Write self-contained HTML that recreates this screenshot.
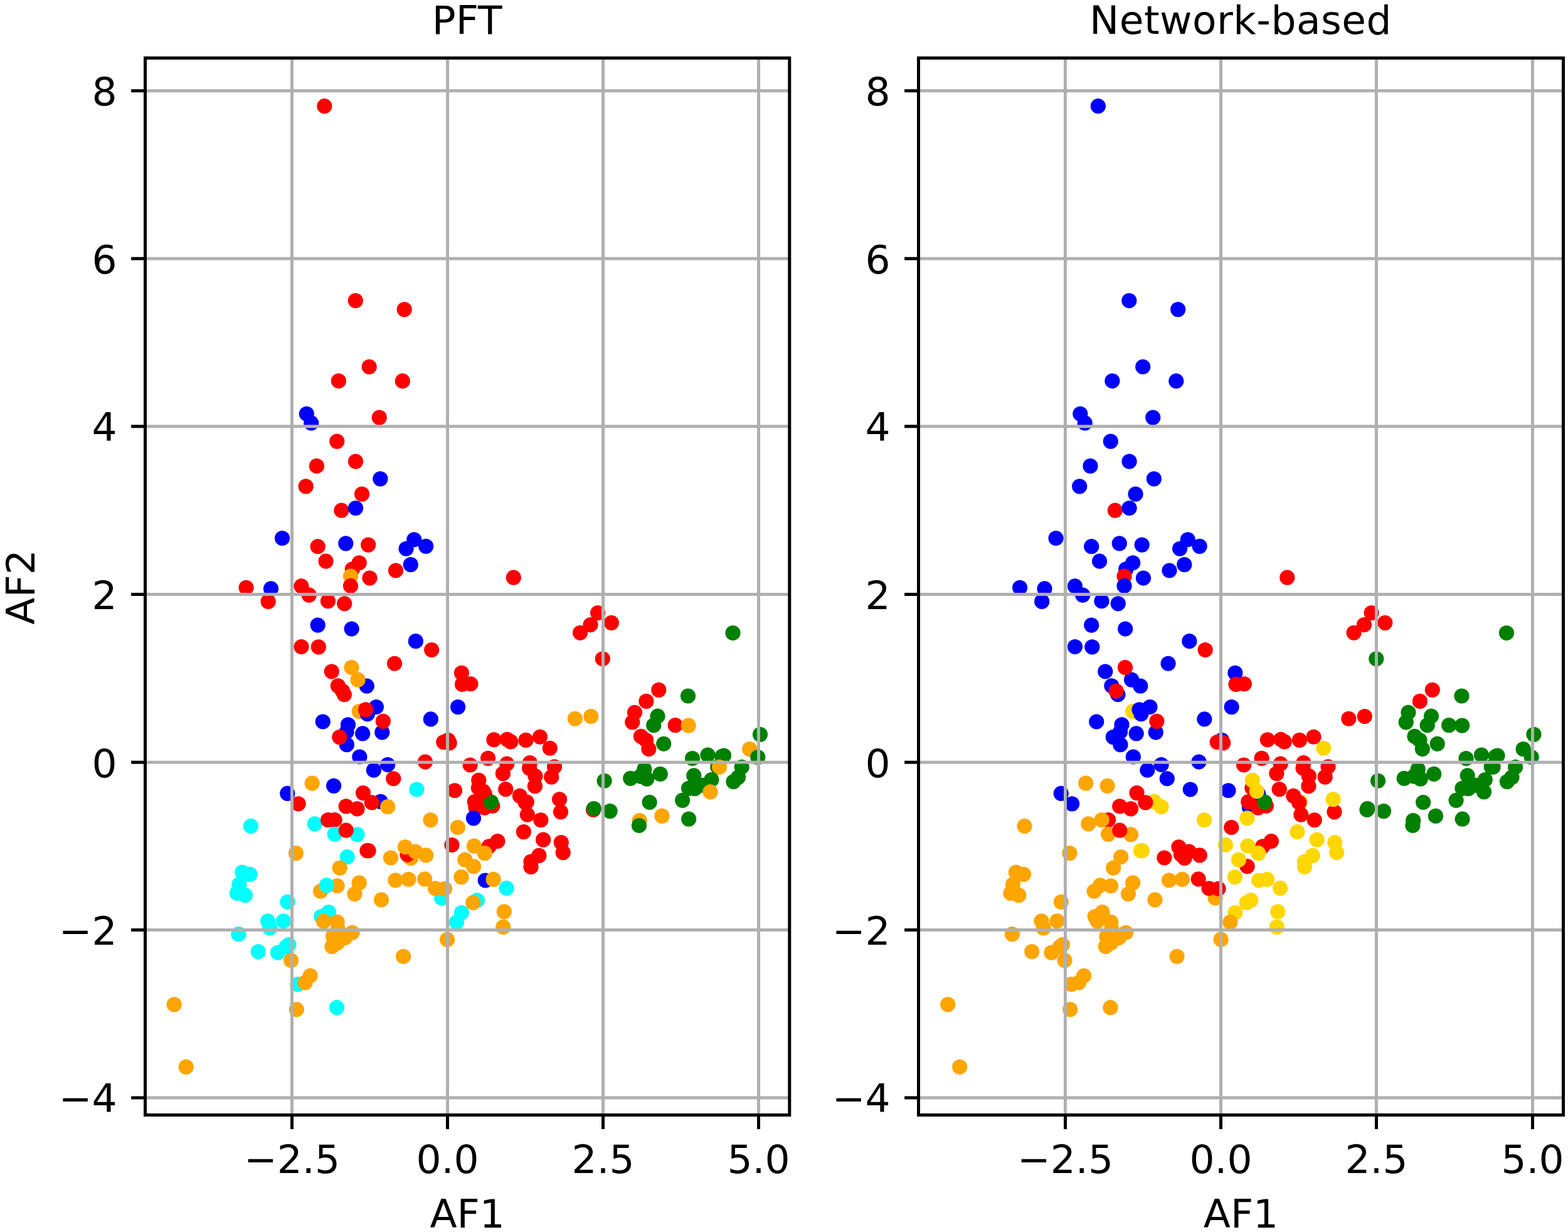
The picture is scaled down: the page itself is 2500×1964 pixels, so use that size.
<!DOCTYPE html>
<html lang="en"><head><meta charset="utf-8"><title>PFT vs Network-based</title>
<style>html,body{margin:0;padding:0;background:#fff}body{width:2500px;height:1964px;overflow:hidden}svg{display:block}text{font-family:"DejaVu Sans","Liberation Sans",sans-serif;font-size:63.0px;fill:#000}.g{stroke:#b0b0b0;stroke-width:5;fill:none}.k{stroke:#000;stroke-width:5;fill:none}.r{fill:#ff0000}.b{fill:#0000ff}.o{fill:#ffa500}.c{fill:#00ffff}.n{fill:#008000}.y{fill:#ffd700}</style></head><body>
<svg xmlns="http://www.w3.org/2000/svg" width="2500" height="1964" viewBox="0 0 2500 1964">
<rect width="2500" height="1964" fill="#fff"/>
<defs><clipPath id="cl"><rect x="231.5" y="92.5" width="1027.3" height="1685.0"/></clipPath><clipPath id="cr"><rect x="1464.5" y="92.5" width="1028.0" height="1685.0"/></clipPath></defs>
<g clip-path="url(#cl)">
<circle class="r" cx="517.36" cy="169.22" r="12.1"/>
<circle class="r" cx="566.79" cy="479.31" r="12.1"/>
<circle class="r" cx="644.71" cy="493.32" r="12.1"/>
<circle class="r" cx="588.68" cy="584.77" r="12.1"/>
<circle class="r" cx="539.90" cy="607.30" r="12.1"/>
<circle class="r" cx="641.81" cy="607.47" r="12.1"/>
<circle class="b" cx="496.23" cy="674.46" r="12.1"/>
<circle class="b" cx="488.82" cy="659.81" r="12.1"/>
<circle class="r" cx="604.74" cy="665.61" r="12.1"/>
<circle class="r" cx="537.28" cy="703.60" r="12.1"/>
<circle class="r" cx="504.92" cy="742.88" r="12.1"/>
<circle class="r" cx="567.07" cy="735.64" r="12.1"/>
<circle class="b" cx="606.35" cy="763.33" r="12.1"/>
<circle class="r" cx="487.70" cy="775.40" r="12.1"/>
<circle class="r" cx="577.05" cy="787.64" r="12.1"/>
<circle class="r" cx="544.37" cy="813.72" r="12.1"/>
<circle class="b" cx="567.07" cy="810.02" r="12.1"/>
<circle class="b" cx="450.02" cy="857.99" r="12.1"/>
<circle class="r" cx="506.69" cy="871.20" r="12.1"/>
<circle class="b" cx="551.29" cy="866.37" r="12.1"/>
<circle class="r" cx="587.19" cy="868.62" r="12.1"/>
<circle class="b" cx="647.56" cy="874.74" r="12.1"/>
<circle class="b" cx="679.12" cy="870.87" r="12.1"/>
<circle class="b" cx="660.28" cy="860.25" r="12.1"/>
<circle class="r" cx="519.57" cy="894.70" r="12.1"/>
<circle class="r" cx="561.75" cy="907.42" r="12.1"/>
<circle class="r" cx="572.70" cy="897.28" r="12.1"/>
<circle class="b" cx="654.81" cy="900.17" r="12.1"/>
<circle class="r" cx="630.98" cy="909.51" r="12.1"/>
<circle class="o" cx="559.02" cy="918.67" r="12.1"/>
<circle class="r" cx="589.44" cy="921.56" r="12.1"/>
<circle class="r" cx="559.02" cy="933.96" r="12.1"/>
<circle class="r" cx="392.55" cy="936.86" r="12.1"/>
<circle class="r" cx="427.64" cy="958.91" r="12.1"/>
<circle class="b" cx="431.99" cy="938.47" r="12.1"/>
<circle class="r" cx="492.69" cy="948.61" r="12.1"/>
<circle class="r" cx="480.45" cy="934.44" r="12.1"/>
<circle class="r" cx="522.95" cy="958.27" r="12.1"/>
<circle class="r" cx="549.20" cy="962.30" r="12.1"/>
<circle class="b" cx="506.69" cy="996.59" r="12.1"/>
<circle class="b" cx="560.63" cy="1002.54" r="12.1"/>
<circle class="r" cx="480.45" cy="1031.04" r="12.1"/>
<circle class="r" cx="507.82" cy="1031.36" r="12.1"/>
<circle class="b" cx="662.86" cy="1022.18" r="12.1"/>
<circle class="r" cx="688.13" cy="1036.03" r="12.1"/>
<circle class="r" cx="629.05" cy="1057.76" r="12.1"/>
<circle class="r" cx="528.75" cy="1070.48" r="12.1"/>
<circle class="b" cx="584.77" cy="1093.67" r="12.1"/>
<circle class="o" cx="570.61" cy="1083.68" r="12.1"/>
<circle class="o" cx="560.46" cy="1064.04" r="12.1"/>
<circle class="r" cx="538.89" cy="1093.34" r="12.1"/>
<circle class="r" cx="548.87" cy="1107.19" r="12.1"/>
<circle class="r" cx="545.98" cy="1101.55" r="12.1"/>
<circle class="o" cx="572.70" cy="1134.08" r="12.1"/>
<circle class="b" cx="599.91" cy="1126.99" r="12.1"/>
<circle class="b" cx="585.90" cy="1138.10" r="12.1"/>
<circle class="r" cx="583.00" cy="1131.34" r="12.1"/>
<circle class="b" cx="514.74" cy="1150.50" r="12.1"/>
<circle class="b" cx="554.99" cy="1155.33" r="12.1"/>
<circle class="b" cx="686.84" cy="1146.47" r="12.1"/>
<circle class="b" cx="609.25" cy="1167.54" r="12.1"/>
<circle class="r" cx="610.86" cy="1149.83" r="12.1"/>
<circle class="b" cx="578.17" cy="1169.47" r="12.1"/>
<circle class="b" cx="552.58" cy="1166.73" r="12.1"/>
<circle class="b" cx="552.90" cy="1187.18" r="12.1"/>
<circle class="r" cx="541.31" cy="1175.11" r="12.1"/>
<circle class="b" cx="573.34" cy="1206.50" r="12.1"/>
<circle class="b" cx="618.10" cy="1219.06" r="12.1"/>
<circle class="b" cx="595.88" cy="1227.75" r="12.1"/>
<circle class="r" cx="627.28" cy="1241.27" r="12.1"/>
<circle class="r" cx="677.99" cy="1214.55" r="12.1"/>
<circle class="o" cx="497.68" cy="1248.68" r="12.1"/>
<circle class="b" cx="532.13" cy="1252.87" r="12.1"/>
<circle class="b" cx="458.23" cy="1264.94" r="12.1"/>
<circle class="r" cx="475.62" cy="1281.36" r="12.1"/>
<circle class="c" cx="664.31" cy="1258.50" r="12.1"/>
<circle class="b" cx="606.83" cy="1277.82" r="12.1"/>
<circle class="r" cx="578.98" cy="1264.14" r="12.1"/>
<circle class="r" cx="592.82" cy="1279.43" r="12.1"/>
<circle class="o" cx="618.10" cy="1286.19" r="12.1"/>
<circle class="r" cx="551.77" cy="1285.39" r="12.1"/>
<circle class="r" cx="569.48" cy="1289.41" r="12.1"/>
<circle class="o" cx="686.52" cy="1307.28" r="12.1"/>
<circle class="c" cx="399.95" cy="1316.94" r="12.1"/>
<circle class="c" cx="501.86" cy="1313.40" r="12.1"/>
<circle class="r" cx="533.58" cy="1307.12" r="12.1"/>
<circle class="r" cx="523.11" cy="1307.12" r="12.1"/>
<circle class="c" cx="533.58" cy="1329.82" r="12.1"/>
<circle class="c" cx="569.48" cy="1330.46" r="12.1"/>
<circle class="r" cx="551.77" cy="1323.70" r="12.1"/>
<circle class="r" cx="585.42" cy="1356.22" r="12.1"/>
<circle class="r" cx="587.51" cy="1356.22" r="12.1"/>
<circle class="o" cx="471.92" cy="1360.09" r="12.1"/>
<circle class="c" cx="553.70" cy="1366.04" r="12.1"/>
<circle class="o" cx="541.63" cy="1383.59" r="12.1"/>
<circle class="o" cx="622.93" cy="1367.49" r="12.1"/>
<circle class="o" cx="655.13" cy="1367.98" r="12.1"/>
<circle class="r" cx="649.49" cy="1362.34" r="12.1"/>
<circle class="o" cx="645.95" cy="1350.27" r="12.1"/>
<circle class="o" cx="662.37" cy="1357.51" r="12.1"/>
<circle class="o" cx="679.28" cy="1363.47" r="12.1"/>
<circle class="o" cx="630.50" cy="1403.37" r="12.1"/>
<circle class="o" cx="651.43" cy="1401.76" r="12.1"/>
<circle class="c" cx="704.23" cy="1431.71" r="12.1"/>
<circle class="o" cx="677.18" cy="1401.44" r="12.1"/>
<circle class="o" cx="694.09" cy="1416.25" r="12.1"/>
<circle class="o" cx="709.06" cy="1416.73" r="12.1"/>
<circle class="o" cx="565.46" cy="1425.11" r="12.1"/>
<circle class="o" cx="572.70" cy="1407.40" r="12.1"/>
<circle class="o" cx="511.04" cy="1420.76" r="12.1"/>
<circle class="o" cx="537.60" cy="1412.23" r="12.1"/>
<circle class="c" cx="520.70" cy="1411.42" r="12.1"/>
<circle class="o" cx="607.96" cy="1434.44" r="12.1"/>
<circle class="c" cx="458.39" cy="1437.82" r="12.1"/>
<circle class="c" cx="430.22" cy="1479.52" r="12.1"/>
<circle class="c" cx="427.00" cy="1468.25" r="12.1"/>
<circle class="c" cx="451.95" cy="1468.25" r="12.1"/>
<circle class="c" cx="411.71" cy="1517.03" r="12.1"/>
<circle class="c" cx="442.94" cy="1518.64" r="12.1"/>
<circle class="c" cx="456.30" cy="1509.63" r="12.1"/>
<circle class="c" cx="460.33" cy="1506.09" r="12.1"/>
<circle class="o" cx="464.03" cy="1531.04" r="12.1"/>
<circle class="o" cx="643.05" cy="1524.76" r="12.1"/>
<circle class="o" cx="713.09" cy="1497.71" r="12.1"/>
<circle class="c" cx="474.49" cy="1569.20" r="12.1"/>
<circle class="o" cx="494.62" cy="1555.51" r="12.1"/>
<circle class="o" cx="486.57" cy="1566.46" r="12.1"/>
<circle class="o" cx="472.72" cy="1609.28" r="12.1"/>
<circle class="c" cx="536.96" cy="1606.22" r="12.1"/>
<circle class="c" cx="512.26" cy="1461.10" r="12.1"/>
<circle class="c" cx="523.92" cy="1454.02" r="12.1"/>
<circle class="o" cx="537.57" cy="1469.80" r="12.1"/>
<circle class="o" cx="516.13" cy="1468.70" r="12.1"/>
<circle class="o" cx="538.92" cy="1481.52" r="12.1"/>
<circle class="o" cx="561.59" cy="1486.73" r="12.1"/>
<circle class="o" cx="550.19" cy="1494.98" r="12.1"/>
<circle class="o" cx="530.94" cy="1492.79" r="12.1"/>
<circle class="o" cx="537.96" cy="1503.09" r="12.1"/>
<circle class="o" cx="529.33" cy="1508.82" r="12.1"/>
<circle class="o" cx="277.64" cy="1601.39" r="12.1"/>
<circle class="c" cx="380.36" cy="1489.18" r="12.1"/>
<circle class="o" cx="296.64" cy="1700.91" r="12.1"/>
<circle class="c" cx="386.32" cy="1390.61" r="12.1"/>
<circle class="c" cx="398.55" cy="1393.83" r="12.1"/>
<circle class="c" cx="381.49" cy="1409.93" r="12.1"/>
<circle class="c" cx="377.94" cy="1423.93" r="12.1"/>
<circle class="c" cx="390.82" cy="1427.15" r="12.1"/>
<circle class="r" cx="818.81" cy="920.71" r="12.1"/>
<circle class="r" cx="953.08" cy="977.06" r="12.1"/>
<circle class="r" cx="941.49" cy="996.06" r="12.1"/>
<circle class="r" cx="925.07" cy="1008.78" r="12.1"/>
<circle class="r" cx="974.82" cy="992.84" r="12.1"/>
<circle class="r" cx="960.81" cy="1050.31" r="12.1"/>
<circle class="r" cx="735.90" cy="1072.85" r="12.1"/>
<circle class="r" cx="750.39" cy="1090.24" r="12.1"/>
<circle class="r" cx="737.03" cy="1090.88" r="12.1"/>
<circle class="b" cx="730.11" cy="1127.11" r="12.1"/>
<circle class="r" cx="1030.36" cy="1117.93" r="12.1"/>
<circle class="n" cx="1168.47" cy="1009.03" r="12.1"/>
<circle class="r" cx="1050.30" cy="1099.83" r="12.1"/>
<circle class="n" cx="1096.99" cy="1109.49" r="12.1"/>
<circle class="r" cx="1011.98" cy="1135.73" r="12.1"/>
<circle class="r" cx="1008.28" cy="1151.35" r="12.1"/>
<circle class="n" cx="1042.25" cy="1156.18" r="12.1"/>
<circle class="n" cx="1048.53" cy="1141.69" r="12.1"/>
<circle class="r" cx="1076.70" cy="1156.18" r="12.1"/>
<circle class="o" cx="1097.63" cy="1156.66" r="12.1"/>
<circle class="n" cx="1211.94" cy="1170.83" r="12.1"/>
<circle class="o" cx="916.86" cy="1145.76" r="12.1"/>
<circle class="o" cx="942.30" cy="1142.06" r="12.1"/>
<circle class="r" cx="1021.99" cy="1173.93" r="12.1"/>
<circle class="r" cx="1030.04" cy="1179.89" r="12.1"/>
<circle class="r" cx="1034.38" cy="1194.06" r="12.1"/>
<circle class="r" cx="714.49" cy="1179.89" r="12.1"/>
<circle class="r" cx="707.24" cy="1183.11" r="12.1"/>
<circle class="r" cx="716.58" cy="1184.40" r="12.1"/>
<circle class="r" cx="787.42" cy="1179.25" r="12.1"/>
<circle class="r" cx="808.67" cy="1178.76" r="12.1"/>
<circle class="r" cx="814.31" cy="1182.47" r="12.1"/>
<circle class="r" cx="838.45" cy="1179.89" r="12.1"/>
<circle class="r" cx="860.99" cy="1174.74" r="12.1"/>
<circle class="r" cx="876.77" cy="1192.77" r="12.1"/>
<circle class="r" cx="778.08" cy="1208.87" r="12.1"/>
<circle class="r" cx="749.59" cy="1219.49" r="12.1"/>
<circle class="r" cx="808.19" cy="1217.72" r="12.1"/>
<circle class="r" cx="801.91" cy="1233.18" r="12.1"/>
<circle class="r" cx="844.89" cy="1216.11" r="12.1"/>
<circle class="r" cx="844.09" cy="1224.65" r="12.1"/>
<circle class="r" cx="853.43" cy="1237.20" r="12.1"/>
<circle class="r" cx="852.94" cy="1253.14" r="12.1"/>
<circle class="r" cx="884.02" cy="1222.23" r="12.1"/>
<circle class="r" cx="879.19" cy="1238.65" r="12.1"/>
<circle class="r" cx="806.26" cy="1258.13" r="12.1"/>
<circle class="r" cx="839.74" cy="1278.58" r="12.1"/>
<circle class="r" cx="828.79" cy="1268.92" r="12.1"/>
<circle class="r" cx="837.65" cy="1279.38" r="12.1"/>
<circle class="r" cx="840.87" cy="1298.70" r="12.1"/>
<circle class="r" cx="862.28" cy="1307.24" r="12.1"/>
<circle class="r" cx="894.00" cy="1294.36" r="12.1"/>
<circle class="r" cx="892.07" cy="1274.23" r="12.1"/>
<circle class="r" cx="946.00" cy="1290.98" r="12.1"/>
<circle class="n" cx="946.80" cy="1289.04" r="12.1"/>
<circle class="n" cx="963.55" cy="1244.77" r="12.1"/>
<circle class="n" cx="972.56" cy="1293.07" r="12.1"/>
<circle class="r" cx="834.91" cy="1326.07" r="12.1"/>
<circle class="r" cx="866.15" cy="1338.63" r="12.1"/>
<circle class="r" cx="894.80" cy="1342.98" r="12.1"/>
<circle class="r" cx="897.70" cy="1359.08" r="12.1"/>
<circle class="r" cx="859.38" cy="1363.91" r="12.1"/>
<circle class="r" cx="846.50" cy="1373.56" r="12.1"/>
<circle class="r" cx="846.50" cy="1381.94" r="12.1"/>
<circle class="r" cx="720.45" cy="1347.00" r="12.1"/>
<circle class="r" cx="779.69" cy="1349.42" r="12.1"/>
<circle class="r" cx="793.38" cy="1341.04" r="12.1"/>
<circle class="o" cx="755.86" cy="1348.61" r="12.1"/>
<circle class="o" cx="772.77" cy="1360.20" r="12.1"/>
<circle class="o" cx="755.06" cy="1381.13" r="12.1"/>
<circle class="o" cx="741.38" cy="1370.67" r="12.1"/>
<circle class="r" cx="762.87" cy="1255.98" r="12.1"/>
<circle class="r" cx="763.27" cy="1243.91" r="12.1"/>
<circle class="r" cx="772.85" cy="1265.88" r="12.1"/>
<circle class="r" cx="758.52" cy="1287.21" r="12.1"/>
<circle class="r" cx="772.45" cy="1287.62" r="12.1"/>
<circle class="r" cx="785.33" cy="1284.80" r="12.1"/>
<circle class="r" cx="756.75" cy="1278.12" r="12.1"/>
<circle class="n" cx="782.99" cy="1278.68" r="12.1"/>
<circle class="r" cx="770.27" cy="1261.29" r="12.1"/>
<circle class="b" cx="754.98" cy="1304.36" r="12.1"/>
<circle class="r" cx="724.95" cy="1260.25" r="12.1"/>
<circle class="o" cx="729.78" cy="1319.01" r="12.1"/>
<circle class="n" cx="1058.19" cy="1185.78" r="12.1"/>
<circle class="n" cx="1005.22" cy="1240.84" r="12.1"/>
<circle class="n" cx="1020.84" cy="1237.62" r="12.1"/>
<circle class="n" cx="1027.28" cy="1226.35" r="12.1"/>
<circle class="n" cx="1031.30" cy="1241.64" r="12.1"/>
<circle class="n" cx="1052.71" cy="1233.91" r="12.1"/>
<circle class="n" cx="1035.65" cy="1278.99" r="12.1"/>
<circle class="o" cx="1019.71" cy="1308.13" r="12.1"/>
<circle class="n" cx="1018.91" cy="1316.02" r="12.1"/>
<circle class="o" cx="1055.45" cy="1300.89" r="12.1"/>
<circle class="n" cx="1098.11" cy="1305.72" r="12.1"/>
<circle class="n" cx="1104.02" cy="1209.02" r="12.1"/>
<circle class="n" cx="1128.49" cy="1203.61" r="12.1"/>
<circle class="n" cx="1151.35" cy="1205.74" r="12.1"/>
<circle class="n" cx="1153.99" cy="1204.51" r="12.1"/>
<circle class="n" cx="1144.27" cy="1222.67" r="12.1"/>
<circle class="o" cx="1147.10" cy="1222.74" r="12.1"/>
<circle class="n" cx="1182.65" cy="1222.74" r="12.1"/>
<circle class="n" cx="1176.98" cy="1239.09" r="12.1"/>
<circle class="n" cx="1169.45" cy="1246.11" r="12.1"/>
<circle class="n" cx="1106.27" cy="1236.45" r="12.1"/>
<circle class="n" cx="1134.35" cy="1243.02" r="12.1"/>
<circle class="n" cx="1121.21" cy="1251.97" r="12.1"/>
<circle class="n" cx="1097.97" cy="1256.87" r="12.1"/>
<circle class="n" cx="1107.69" cy="1257.13" r="12.1"/>
<circle class="o" cx="1132.48" cy="1262.41" r="12.1"/>
<circle class="n" cx="1088.11" cy="1275.86" r="12.1"/>
<circle class="o" cx="1195.21" cy="1194.14" r="12.1"/>
<circle class="n" cx="1208.22" cy="1207.09" r="12.1"/>
<circle class="o" cx="735.42" cy="1398.17" r="12.1"/>
<circle class="b" cx="773.74" cy="1403.49" r="12.1"/>
<circle class="o" cx="786.61" cy="1401.88" r="12.1"/>
<circle class="c" cx="807.54" cy="1415.88" r="12.1"/>
<circle class="c" cx="760.86" cy="1435.20" r="12.1"/>
<circle class="o" cx="754.25" cy="1438.91" r="12.1"/>
<circle class="c" cx="735.90" cy="1455.00" r="12.1"/>
<circle class="c" cx="727.85" cy="1470.14" r="12.1"/>
<circle class="o" cx="803.84" cy="1453.39" r="12.1"/>
<circle class="o" cx="802.23" cy="1477.87" r="12.1"/>
</g>
<path class="g" d="M465.5 92.5V1777.5M713.5 92.5V1777.5M961.5 92.5V1777.5M1209.5 92.5V1777.5M231.5 144.7H1258.8M231.5 412.3H1258.8M231.5 679.7H1258.8M231.5 947.6H1258.8M231.5 1215.3H1258.8M231.5 1482.4H1258.8M231.5 1750.0H1258.8"/>
<path class="k" d="M465.5 1777.5v22.4M713.5 1777.5v22.4M961.5 1777.5v22.4M1209.5 1777.5v22.4M231.5 144.7h-22.4M231.5 412.3h-22.4M231.5 679.7h-22.4M231.5 947.6h-22.4M231.5 1215.3h-22.4M231.5 1482.4h-22.4M231.5 1750.0h-22.4"/>
<rect class="k" x="231.5" y="92.5" width="1027.3" height="1685.0" stroke-linejoin="miter"/>
<text x="465.5" y="1870" text-anchor="middle">−2.5</text>
<text x="713.5" y="1870" text-anchor="middle">0.0</text>
<text x="961.5" y="1870" text-anchor="middle">2.5</text>
<text x="1209.5" y="1870" text-anchor="middle">5.0</text>
<text x="186.55" y="168" text-anchor="end">8</text>
<text x="186.55" y="436" text-anchor="end">6</text>
<text x="186.55" y="703" text-anchor="end">4</text>
<text x="186.55" y="971" text-anchor="end">2</text>
<text x="186.55" y="1239" text-anchor="end">0</text>
<text x="186.55" y="1506" text-anchor="end">−2</text>
<text x="186.55" y="1773" text-anchor="end">−4</text>
<text x="744.65" y="54" text-anchor="middle">PFT</text>
<text x="745.15" y="1957" text-anchor="middle">AF1</text>
<text transform="translate(55.3 936.0) rotate(-90)" text-anchor="middle">AF2</text>
<g clip-path="url(#cr)">
<circle class="b" cx="1750.86" cy="169.22" r="12.1"/>
<circle class="b" cx="1800.29" cy="479.31" r="12.1"/>
<circle class="b" cx="1878.21" cy="493.32" r="12.1"/>
<circle class="b" cx="1822.18" cy="584.77" r="12.1"/>
<circle class="b" cx="1773.40" cy="607.30" r="12.1"/>
<circle class="b" cx="1875.31" cy="607.47" r="12.1"/>
<circle class="b" cx="1729.73" cy="674.46" r="12.1"/>
<circle class="b" cx="1722.32" cy="659.81" r="12.1"/>
<circle class="b" cx="1838.24" cy="665.61" r="12.1"/>
<circle class="b" cx="1770.78" cy="703.60" r="12.1"/>
<circle class="b" cx="1738.42" cy="742.88" r="12.1"/>
<circle class="b" cx="1800.57" cy="735.64" r="12.1"/>
<circle class="b" cx="1839.85" cy="763.33" r="12.1"/>
<circle class="b" cx="1721.20" cy="775.40" r="12.1"/>
<circle class="b" cx="1810.55" cy="787.64" r="12.1"/>
<circle class="r" cx="1777.87" cy="813.72" r="12.1"/>
<circle class="b" cx="1800.57" cy="810.02" r="12.1"/>
<circle class="b" cx="1683.52" cy="857.99" r="12.1"/>
<circle class="b" cx="1740.19" cy="871.20" r="12.1"/>
<circle class="b" cx="1784.79" cy="866.37" r="12.1"/>
<circle class="b" cx="1820.69" cy="868.62" r="12.1"/>
<circle class="b" cx="1881.06" cy="874.74" r="12.1"/>
<circle class="b" cx="1912.62" cy="870.87" r="12.1"/>
<circle class="b" cx="1893.78" cy="860.25" r="12.1"/>
<circle class="b" cx="1753.07" cy="894.70" r="12.1"/>
<circle class="b" cx="1795.25" cy="907.42" r="12.1"/>
<circle class="b" cx="1806.20" cy="897.28" r="12.1"/>
<circle class="b" cx="1888.31" cy="900.17" r="12.1"/>
<circle class="b" cx="1864.48" cy="909.51" r="12.1"/>
<circle class="r" cx="1792.52" cy="918.67" r="12.1"/>
<circle class="b" cx="1822.94" cy="921.56" r="12.1"/>
<circle class="b" cx="1792.52" cy="933.96" r="12.1"/>
<circle class="b" cx="1626.05" cy="936.86" r="12.1"/>
<circle class="b" cx="1661.14" cy="958.91" r="12.1"/>
<circle class="b" cx="1665.49" cy="938.47" r="12.1"/>
<circle class="b" cx="1726.19" cy="948.61" r="12.1"/>
<circle class="b" cx="1713.95" cy="934.44" r="12.1"/>
<circle class="b" cx="1756.45" cy="958.27" r="12.1"/>
<circle class="b" cx="1782.70" cy="962.30" r="12.1"/>
<circle class="b" cx="1740.19" cy="996.59" r="12.1"/>
<circle class="b" cx="1794.13" cy="1002.54" r="12.1"/>
<circle class="b" cx="1713.95" cy="1031.04" r="12.1"/>
<circle class="b" cx="1741.32" cy="1031.36" r="12.1"/>
<circle class="b" cx="1896.36" cy="1022.18" r="12.1"/>
<circle class="r" cx="1921.63" cy="1036.03" r="12.1"/>
<circle class="b" cx="1862.55" cy="1057.76" r="12.1"/>
<circle class="b" cx="1762.25" cy="1070.48" r="12.1"/>
<circle class="b" cx="1818.27" cy="1093.67" r="12.1"/>
<circle class="b" cx="1804.11" cy="1083.68" r="12.1"/>
<circle class="r" cx="1793.96" cy="1064.04" r="12.1"/>
<circle class="b" cx="1772.39" cy="1093.34" r="12.1"/>
<circle class="b" cx="1782.37" cy="1107.19" r="12.1"/>
<circle class="r" cx="1779.48" cy="1101.55" r="12.1"/>
<circle class="y" cx="1806.20" cy="1134.08" r="12.1"/>
<circle class="b" cx="1833.41" cy="1126.99" r="12.1"/>
<circle class="b" cx="1819.40" cy="1138.10" r="12.1"/>
<circle class="b" cx="1816.50" cy="1131.34" r="12.1"/>
<circle class="b" cx="1748.24" cy="1150.50" r="12.1"/>
<circle class="b" cx="1788.49" cy="1155.33" r="12.1"/>
<circle class="b" cx="1920.34" cy="1146.47" r="12.1"/>
<circle class="b" cx="1842.75" cy="1167.54" r="12.1"/>
<circle class="r" cx="1844.36" cy="1149.83" r="12.1"/>
<circle class="b" cx="1811.67" cy="1169.47" r="12.1"/>
<circle class="b" cx="1786.08" cy="1166.73" r="12.1"/>
<circle class="b" cx="1786.40" cy="1187.18" r="12.1"/>
<circle class="b" cx="1774.81" cy="1175.11" r="12.1"/>
<circle class="b" cx="1806.84" cy="1206.50" r="12.1"/>
<circle class="b" cx="1851.60" cy="1219.06" r="12.1"/>
<circle class="b" cx="1829.38" cy="1227.75" r="12.1"/>
<circle class="b" cx="1860.78" cy="1241.27" r="12.1"/>
<circle class="b" cx="1911.49" cy="1214.55" r="12.1"/>
<circle class="o" cx="1731.18" cy="1248.68" r="12.1"/>
<circle class="o" cx="1765.63" cy="1252.87" r="12.1"/>
<circle class="b" cx="1691.73" cy="1264.94" r="12.1"/>
<circle class="b" cx="1709.12" cy="1281.36" r="12.1"/>
<circle class="b" cx="1897.81" cy="1258.50" r="12.1"/>
<circle class="y" cx="1840.33" cy="1277.82" r="12.1"/>
<circle class="r" cx="1812.48" cy="1264.14" r="12.1"/>
<circle class="r" cx="1826.32" cy="1279.43" r="12.1"/>
<circle class="y" cx="1851.60" cy="1286.19" r="12.1"/>
<circle class="r" cx="1785.27" cy="1285.39" r="12.1"/>
<circle class="r" cx="1802.98" cy="1289.41" r="12.1"/>
<circle class="y" cx="1920.02" cy="1307.28" r="12.1"/>
<circle class="o" cx="1633.45" cy="1316.94" r="12.1"/>
<circle class="o" cx="1735.36" cy="1313.40" r="12.1"/>
<circle class="r" cx="1767.08" cy="1307.12" r="12.1"/>
<circle class="o" cx="1756.61" cy="1307.12" r="12.1"/>
<circle class="o" cx="1767.08" cy="1329.82" r="12.1"/>
<circle class="o" cx="1802.98" cy="1330.46" r="12.1"/>
<circle class="r" cx="1785.27" cy="1323.70" r="12.1"/>
<circle class="y" cx="1818.92" cy="1356.22" r="12.1"/>
<circle class="y" cx="1821.01" cy="1356.22" r="12.1"/>
<circle class="o" cx="1705.42" cy="1360.09" r="12.1"/>
<circle class="o" cx="1787.20" cy="1366.04" r="12.1"/>
<circle class="o" cx="1775.13" cy="1383.59" r="12.1"/>
<circle class="r" cx="1856.43" cy="1367.49" r="12.1"/>
<circle class="r" cx="1888.63" cy="1367.98" r="12.1"/>
<circle class="r" cx="1882.99" cy="1362.34" r="12.1"/>
<circle class="r" cx="1879.45" cy="1350.27" r="12.1"/>
<circle class="r" cx="1895.87" cy="1357.51" r="12.1"/>
<circle class="r" cx="1912.78" cy="1363.47" r="12.1"/>
<circle class="o" cx="1864.00" cy="1403.37" r="12.1"/>
<circle class="o" cx="1884.93" cy="1401.76" r="12.1"/>
<circle class="o" cx="1937.73" cy="1431.71" r="12.1"/>
<circle class="r" cx="1910.68" cy="1401.44" r="12.1"/>
<circle class="r" cx="1927.59" cy="1416.25" r="12.1"/>
<circle class="r" cx="1942.56" cy="1416.73" r="12.1"/>
<circle class="o" cx="1798.96" cy="1425.11" r="12.1"/>
<circle class="o" cx="1806.20" cy="1407.40" r="12.1"/>
<circle class="o" cx="1744.54" cy="1420.76" r="12.1"/>
<circle class="o" cx="1771.10" cy="1412.23" r="12.1"/>
<circle class="o" cx="1754.20" cy="1411.42" r="12.1"/>
<circle class="o" cx="1841.46" cy="1434.44" r="12.1"/>
<circle class="o" cx="1691.89" cy="1437.82" r="12.1"/>
<circle class="o" cx="1663.72" cy="1479.52" r="12.1"/>
<circle class="o" cx="1660.50" cy="1468.25" r="12.1"/>
<circle class="o" cx="1685.45" cy="1468.25" r="12.1"/>
<circle class="o" cx="1645.21" cy="1517.03" r="12.1"/>
<circle class="o" cx="1676.44" cy="1518.64" r="12.1"/>
<circle class="o" cx="1689.80" cy="1509.63" r="12.1"/>
<circle class="o" cx="1693.83" cy="1506.09" r="12.1"/>
<circle class="o" cx="1697.53" cy="1531.04" r="12.1"/>
<circle class="o" cx="1876.55" cy="1524.76" r="12.1"/>
<circle class="o" cx="1946.59" cy="1497.71" r="12.1"/>
<circle class="o" cx="1707.99" cy="1569.20" r="12.1"/>
<circle class="o" cx="1728.12" cy="1555.51" r="12.1"/>
<circle class="o" cx="1720.07" cy="1566.46" r="12.1"/>
<circle class="o" cx="1706.22" cy="1609.28" r="12.1"/>
<circle class="o" cx="1770.46" cy="1606.22" r="12.1"/>
<circle class="o" cx="1745.76" cy="1461.10" r="12.1"/>
<circle class="o" cx="1757.42" cy="1454.02" r="12.1"/>
<circle class="o" cx="1771.07" cy="1469.80" r="12.1"/>
<circle class="o" cx="1749.63" cy="1468.70" r="12.1"/>
<circle class="o" cx="1772.42" cy="1481.52" r="12.1"/>
<circle class="o" cx="1795.09" cy="1486.73" r="12.1"/>
<circle class="o" cx="1783.69" cy="1494.98" r="12.1"/>
<circle class="o" cx="1764.44" cy="1492.79" r="12.1"/>
<circle class="o" cx="1771.46" cy="1503.09" r="12.1"/>
<circle class="o" cx="1762.83" cy="1508.82" r="12.1"/>
<circle class="o" cx="1511.14" cy="1601.39" r="12.1"/>
<circle class="o" cx="1613.86" cy="1489.18" r="12.1"/>
<circle class="o" cx="1530.14" cy="1700.91" r="12.1"/>
<circle class="o" cx="1619.82" cy="1390.61" r="12.1"/>
<circle class="o" cx="1632.05" cy="1393.83" r="12.1"/>
<circle class="o" cx="1614.99" cy="1409.93" r="12.1"/>
<circle class="o" cx="1611.44" cy="1423.93" r="12.1"/>
<circle class="o" cx="1624.32" cy="1427.15" r="12.1"/>
<circle class="r" cx="2052.31" cy="920.71" r="12.1"/>
<circle class="r" cx="2186.58" cy="977.06" r="12.1"/>
<circle class="r" cx="2174.99" cy="996.06" r="12.1"/>
<circle class="r" cx="2158.57" cy="1008.78" r="12.1"/>
<circle class="r" cx="2208.32" cy="992.84" r="12.1"/>
<circle class="n" cx="2194.31" cy="1050.31" r="12.1"/>
<circle class="b" cx="1969.40" cy="1072.85" r="12.1"/>
<circle class="r" cx="1983.89" cy="1090.24" r="12.1"/>
<circle class="r" cx="1970.53" cy="1090.88" r="12.1"/>
<circle class="b" cx="1963.61" cy="1127.11" r="12.1"/>
<circle class="r" cx="2263.86" cy="1117.93" r="12.1"/>
<circle class="n" cx="2401.97" cy="1009.03" r="12.1"/>
<circle class="r" cx="2283.80" cy="1099.83" r="12.1"/>
<circle class="n" cx="2330.49" cy="1109.49" r="12.1"/>
<circle class="n" cx="2245.48" cy="1135.73" r="12.1"/>
<circle class="n" cx="2241.78" cy="1151.35" r="12.1"/>
<circle class="n" cx="2275.75" cy="1156.18" r="12.1"/>
<circle class="n" cx="2282.03" cy="1141.69" r="12.1"/>
<circle class="n" cx="2310.20" cy="1156.18" r="12.1"/>
<circle class="n" cx="2331.13" cy="1156.66" r="12.1"/>
<circle class="n" cx="2445.44" cy="1170.83" r="12.1"/>
<circle class="r" cx="2150.36" cy="1145.76" r="12.1"/>
<circle class="r" cx="2175.80" cy="1142.06" r="12.1"/>
<circle class="n" cx="2255.49" cy="1173.93" r="12.1"/>
<circle class="n" cx="2263.54" cy="1179.89" r="12.1"/>
<circle class="n" cx="2267.88" cy="1194.06" r="12.1"/>
<circle class="b" cx="1947.99" cy="1179.89" r="12.1"/>
<circle class="r" cx="1940.74" cy="1183.11" r="12.1"/>
<circle class="r" cx="1950.08" cy="1184.40" r="12.1"/>
<circle class="r" cx="2020.92" cy="1179.25" r="12.1"/>
<circle class="r" cx="2042.17" cy="1178.76" r="12.1"/>
<circle class="r" cx="2047.81" cy="1182.47" r="12.1"/>
<circle class="r" cx="2071.95" cy="1179.89" r="12.1"/>
<circle class="r" cx="2094.49" cy="1174.74" r="12.1"/>
<circle class="y" cx="2110.27" cy="1192.77" r="12.1"/>
<circle class="r" cx="2011.58" cy="1208.87" r="12.1"/>
<circle class="r" cx="1983.09" cy="1219.49" r="12.1"/>
<circle class="r" cx="2041.69" cy="1217.72" r="12.1"/>
<circle class="r" cx="2035.41" cy="1233.18" r="12.1"/>
<circle class="r" cx="2078.39" cy="1216.11" r="12.1"/>
<circle class="r" cx="2077.59" cy="1224.65" r="12.1"/>
<circle class="r" cx="2086.93" cy="1237.20" r="12.1"/>
<circle class="r" cx="2086.44" cy="1253.14" r="12.1"/>
<circle class="r" cx="2117.52" cy="1222.23" r="12.1"/>
<circle class="r" cx="2112.69" cy="1238.65" r="12.1"/>
<circle class="r" cx="2039.76" cy="1258.13" r="12.1"/>
<circle class="y" cx="2073.24" cy="1278.58" r="12.1"/>
<circle class="r" cx="2062.29" cy="1268.92" r="12.1"/>
<circle class="r" cx="2071.15" cy="1279.38" r="12.1"/>
<circle class="r" cx="2074.37" cy="1298.70" r="12.1"/>
<circle class="r" cx="2095.78" cy="1307.24" r="12.1"/>
<circle class="r" cx="2127.50" cy="1294.36" r="12.1"/>
<circle class="y" cx="2125.57" cy="1274.23" r="12.1"/>
<circle class="n" cx="2179.50" cy="1290.98" r="12.1"/>
<circle class="n" cx="2180.30" cy="1289.04" r="12.1"/>
<circle class="n" cx="2197.05" cy="1244.77" r="12.1"/>
<circle class="n" cx="2206.06" cy="1293.07" r="12.1"/>
<circle class="y" cx="2068.41" cy="1326.07" r="12.1"/>
<circle class="y" cx="2099.65" cy="1338.63" r="12.1"/>
<circle class="y" cx="2128.30" cy="1342.98" r="12.1"/>
<circle class="y" cx="2131.20" cy="1359.08" r="12.1"/>
<circle class="y" cx="2092.88" cy="1363.91" r="12.1"/>
<circle class="y" cx="2080.00" cy="1373.56" r="12.1"/>
<circle class="y" cx="2080.00" cy="1381.94" r="12.1"/>
<circle class="y" cx="1953.95" cy="1347.00" r="12.1"/>
<circle class="r" cx="2013.19" cy="1349.42" r="12.1"/>
<circle class="r" cx="2026.88" cy="1341.04" r="12.1"/>
<circle class="y" cx="1989.36" cy="1348.61" r="12.1"/>
<circle class="y" cx="2006.27" cy="1360.20" r="12.1"/>
<circle class="r" cx="1988.56" cy="1381.13" r="12.1"/>
<circle class="y" cx="1974.88" cy="1370.67" r="12.1"/>
<circle class="r" cx="1996.37" cy="1255.98" r="12.1"/>
<circle class="y" cx="1996.77" cy="1243.91" r="12.1"/>
<circle class="b" cx="2006.35" cy="1265.88" r="12.1"/>
<circle class="b" cx="1992.02" cy="1287.21" r="12.1"/>
<circle class="r" cx="2005.95" cy="1287.62" r="12.1"/>
<circle class="r" cx="2018.83" cy="1284.80" r="12.1"/>
<circle class="r" cx="1990.25" cy="1278.12" r="12.1"/>
<circle class="n" cx="2016.49" cy="1278.68" r="12.1"/>
<circle class="y" cx="2003.77" cy="1261.29" r="12.1"/>
<circle class="y" cx="1988.48" cy="1304.36" r="12.1"/>
<circle class="b" cx="1958.45" cy="1260.25" r="12.1"/>
<circle class="r" cx="1963.28" cy="1319.01" r="12.1"/>
<circle class="n" cx="2291.69" cy="1185.78" r="12.1"/>
<circle class="n" cx="2238.72" cy="1240.84" r="12.1"/>
<circle class="n" cx="2254.34" cy="1237.62" r="12.1"/>
<circle class="n" cx="2260.78" cy="1226.35" r="12.1"/>
<circle class="n" cx="2264.80" cy="1241.64" r="12.1"/>
<circle class="n" cx="2286.21" cy="1233.91" r="12.1"/>
<circle class="n" cx="2269.15" cy="1278.99" r="12.1"/>
<circle class="n" cx="2253.21" cy="1308.13" r="12.1"/>
<circle class="n" cx="2252.41" cy="1316.02" r="12.1"/>
<circle class="n" cx="2288.95" cy="1300.89" r="12.1"/>
<circle class="n" cx="2331.61" cy="1305.72" r="12.1"/>
<circle class="n" cx="2337.52" cy="1209.02" r="12.1"/>
<circle class="n" cx="2361.99" cy="1203.61" r="12.1"/>
<circle class="n" cx="2384.85" cy="1205.74" r="12.1"/>
<circle class="n" cx="2387.49" cy="1204.51" r="12.1"/>
<circle class="n" cx="2377.77" cy="1222.67" r="12.1"/>
<circle class="n" cx="2380.60" cy="1222.74" r="12.1"/>
<circle class="n" cx="2416.15" cy="1222.74" r="12.1"/>
<circle class="n" cx="2410.48" cy="1239.09" r="12.1"/>
<circle class="n" cx="2402.95" cy="1246.11" r="12.1"/>
<circle class="n" cx="2339.77" cy="1236.45" r="12.1"/>
<circle class="n" cx="2367.85" cy="1243.02" r="12.1"/>
<circle class="n" cx="2354.71" cy="1251.97" r="12.1"/>
<circle class="n" cx="2331.47" cy="1256.87" r="12.1"/>
<circle class="n" cx="2341.19" cy="1257.13" r="12.1"/>
<circle class="n" cx="2365.98" cy="1262.41" r="12.1"/>
<circle class="n" cx="2321.61" cy="1275.86" r="12.1"/>
<circle class="n" cx="2428.71" cy="1194.14" r="12.1"/>
<circle class="n" cx="2441.72" cy="1207.09" r="12.1"/>
<circle class="y" cx="1968.92" cy="1398.17" r="12.1"/>
<circle class="y" cx="2007.24" cy="1403.49" r="12.1"/>
<circle class="y" cx="2020.11" cy="1401.88" r="12.1"/>
<circle class="y" cx="2041.04" cy="1415.88" r="12.1"/>
<circle class="y" cx="1994.36" cy="1435.20" r="12.1"/>
<circle class="y" cx="1987.75" cy="1438.91" r="12.1"/>
<circle class="y" cx="1969.40" cy="1455.00" r="12.1"/>
<circle class="o" cx="1961.35" cy="1470.14" r="12.1"/>
<circle class="y" cx="2037.34" cy="1453.39" r="12.1"/>
<circle class="y" cx="2035.73" cy="1477.87" r="12.1"/>
</g>
<path class="g" d="M1698.5 92.5V1777.5M1946.5 92.5V1777.5M2194.5 92.5V1777.5M2443.5 92.5V1777.5M1464.5 144.7H2492.5M1464.5 412.3H2492.5M1464.5 679.7H2492.5M1464.5 947.6H2492.5M1464.5 1215.3H2492.5M1464.5 1482.4H2492.5M1464.5 1750.0H2492.5"/>
<path class="k" d="M1698.5 1777.5v22.4M1946.5 1777.5v22.4M2194.5 1777.5v22.4M2443.5 1777.5v22.4M1464.5 144.7h-22.4M1464.5 412.3h-22.4M1464.5 679.7h-22.4M1464.5 947.6h-22.4M1464.5 1215.3h-22.4M1464.5 1482.4h-22.4M1464.5 1750.0h-22.4"/>
<rect class="k" x="1464.5" y="92.5" width="1028.0" height="1685.0" stroke-linejoin="miter"/>
<text x="1698.5" y="1870" text-anchor="middle">−2.5</text>
<text x="1946.5" y="1870" text-anchor="middle">0.0</text>
<text x="2194.5" y="1870" text-anchor="middle">2.5</text>
<text x="2443.5" y="1870" text-anchor="middle">5.0</text>
<text x="1419.55" y="168" text-anchor="end">8</text>
<text x="1419.55" y="436" text-anchor="end">6</text>
<text x="1419.55" y="703" text-anchor="end">4</text>
<text x="1419.55" y="971" text-anchor="end">2</text>
<text x="1419.55" y="1239" text-anchor="end">0</text>
<text x="1419.55" y="1506" text-anchor="end">−2</text>
<text x="1419.55" y="1773" text-anchor="end">−4</text>
<text x="1978.0" y="54" text-anchor="middle" letter-spacing="0.45">Network-based</text>
<text x="1978.5" y="1957" text-anchor="middle">AF1</text>
</svg></body></html>
